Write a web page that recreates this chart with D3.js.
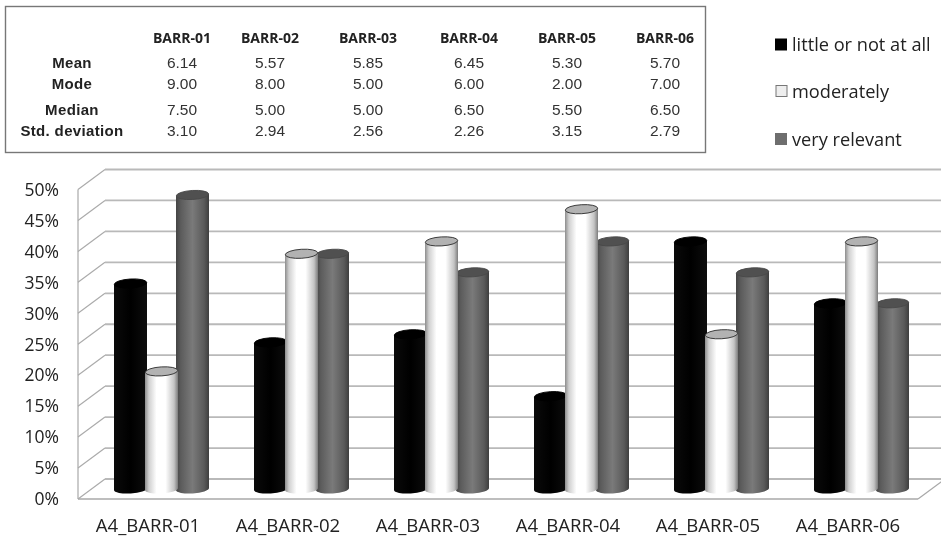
<!DOCTYPE html>
<html><head><meta charset="utf-8">
<script src="https://cdn.jsdelivr.net/npm/d3@7"></script>
<style>
html,body{margin:0;padding:0;background:#fff;overflow:hidden}
svg{display:block;filter:blur(0.4px)}
</style></head><body>
<svg id="c" width="941" height="536"></svg>
<script>
// ---- data ----
const categories = ["A4_BARR-01","A4_BARR-02","A4_BARR-03","A4_BARR-04","A4_BARR-05","A4_BARR-06"];
const seriesNames = ["little or not at all","moderately","very relevant"];
const littleValues = [33.2,23.7,25,15,40,30];
const moderateValues = [19,38,40,45.2,25,40];
const relevantValues = [47.5,38,35,40,35,30];
const yTicks = [0,5,10,15,20,25,30,35,40,45,50];
const tableHeads = ["BARR-01","BARR-02","BARR-03","BARR-04","BARR-05","BARR-06"];
const tableRowNames = ["Mean","Mode","Median","Std. deviation"];
const meanRow = ["6.14","5.57","5.85","6.45","5.30","5.70"];
const modeRow = ["9.00","8.00","5.00","6.00","2.00","7.00"];
const medianRow = ["7.50","5.00","5.00","6.50","5.50","6.50"];
const stdRow = ["3.10","2.94","2.56","2.26","3.15","2.79"];
// ---- layout ----
const svg = d3.select("#c");
const x = d3.scaleBand().domain(categories).range([78,918]).padding(0);
const y = d3.scaleLinear().domain([0,50]).range([499,189.5]);
const depthX = 27, depthY = -20, barShiftX = 14, barShiftY = -10;
const barW = 33, barStep = 31, ry = 4.5, tilt = -3.5;
const sans = "'Open Sans',sans-serif", arial = "'Liberation Sans',Arial,sans-serif";

// gradients
const defs = svg.append("defs");
function grad(id, stops){
  const g = defs.append("linearGradient").attr("id",id);
  stops.forEach(s=>g.append("stop").attr("offset",s[0]).attr("stop-color",s[1]));
}
grad("gBlack",[[0,"#0a0a0a"],[.5,"#000"],[1,"#0c0c0c"]]);
grad("gWhite",[[0,"#8d8d8d"],[.12,"#d0d0d0"],[.35,"#fff"],[.62,"#fff"],[.88,"#c4c4c4"],[1,"#7c7c7c"]]);
grad("gGray",[[0,"#444"],[.15,"#5c5c5c"],[.5,"#7a7a7a"],[.85,"#5a5a5a"],[1,"#3e3e3e"]]);

// walls
const wall = svg.append("g").attr("fill","none");
yTicks.forEach(t=>{
  wall.append("line").attr("x1",78).attr("y1",y(t)).attr("x2",78+depthX).attr("y2",y(t)+depthY)
    .attr("stroke","#ababab").attr("stroke-width",1.2);
  wall.append("line").attr("x1",78+depthX).attr("y1",y(t)+depthY).attr("x2",941).attr("y2",y(t)+depthY)
    .attr("stroke","#b9b9b9").attr("stroke-width",1.8);
});
wall.append("line").attr("x1",78).attr("y1",y(0)).attr("x2",78).attr("y2",y(50)).attr("stroke","#a8a8a8").attr("stroke-width",1.2);
wall.append("line").attr("x1",78).attr("y1",y(0)).attr("x2",918).attr("y2",y(0)).attr("stroke","#a8a8a8").attr("stroke-width",1.5);
wall.append("line").attr("x1",918).attr("y1",y(0)).attr("x2",918+depthX).attr("y2",y(0)+depthY).attr("stroke","#a8a8a8").attr("stroke-width",1.2);

// cylinders
const looks = [
  {vals:littleValues,i:0,fill:"url(#gBlack)",cap:"#000",capStroke:"#000"},
  {vals:relevantValues,i:2,fill:"url(#gGray)",cap:"#505050",capStroke:"#484848"},
  {vals:moderateValues,i:1,fill:"url(#gWhite)",cap:"#b2b2b2",capStroke:"#2e2e2e"}
];
const dy = Math.sin(-tilt*Math.PI/180)*barW/2;
looks.forEach(s=>{
  const g = svg.append("g");
  const left = c => x(c)+barShiftX+22+s.i*barStep;
  const top = v => y(v)+barShiftY;
  g.selectAll("path").data(categories).join("path")
    .attr("fill",s.fill)
    .attr("d",(c,k)=>{
      const l=left(c), r=l+barW, t=top(s.vals[k]), b=y(0)+barShiftY;
      return `M${l},${t+dy} L${l},${b+dy} A${barW/2},${ry} ${tilt} 0 0 ${r},${b-dy} L${r},${t-dy} Z`;
    });
  g.selectAll("ellipse").data(categories).join("ellipse")
    .attr("transform",(c,k)=>`translate(${left(c)+barW/2},${top(s.vals[k])}) rotate(${tilt})`)
    .attr("rx",barW/2-.3).attr("ry",ry)
    .attr("fill",s.cap).attr("stroke",s.capStroke).attr("stroke-width",.9);
});

// axes
const yAxis = svg.append("g").attr("transform","translate(59,0)")
  .call(d3.axisLeft(y).tickValues(yTicks).tickFormat(d=>d+"%").tickSize(0).tickPadding(0));
yAxis.select(".domain").remove();
yAxis.selectAll("text").attr("font-family",sans).attr("font-size",17.5).attr("fill","#222").attr("dy","0.33em");
const xAxis = svg.append("g").attr("transform","translate(0,499)")
  .call(d3.axisBottom(x).tickSize(0).tickPadding(0));
xAxis.select(".domain").remove();
xAxis.selectAll("text").attr("font-family",sans).attr("font-size",18.6).attr("fill","#222").attr("y",32.5).attr("dy",0);

// table
svg.append("rect").attr("x",5.5).attr("y",6.5).attr("width",700).attr("height",146)
  .attr("fill","none").attr("stroke","#777").attr("stroke-width",1.4);
const colX = d3.scaleOrdinal().domain(tableHeads).range([182,270,368,469,567,665]);
const rowY = d3.scaleOrdinal().domain(tableRowNames).range([67.5,88.5,114.5,135.5]);
const tb = svg.append("g").attr("text-anchor","middle");
tb.selectAll("text.h").data(tableHeads).join("text").attr("class","h")
  .attr("x",d=>colX(d)).attr("y",43).text(d=>d)
  .attr("font-family",sans).attr("font-weight",700).attr("font-size",14).attr("fill","#222");
tb.selectAll("text.r").data(tableRowNames).join("text").attr("class","r")
  .attr("x",72).attr("y",d=>rowY(d)).text(d=>d)
  .attr("font-family",arial).attr("font-weight",700).attr("font-size",15).attr("letter-spacing",.35).attr("fill","#222");
[meanRow,modeRow,medianRow,stdRow].forEach((row,ri)=>{
  tb.append("g").selectAll("text").data(row).join("text")
    .attr("x",(d,i)=>colX(tableHeads[i])).attr("y",rowY(tableRowNames[ri])).text(d=>d)
    .attr("font-family",arial).attr("font-size",15.5).attr("fill","#333");
});

// legend
const legY = d3.scaleOrdinal().domain(seriesNames).range([45,91.5,139.5]);
const legFill = d3.scaleOrdinal().domain(seriesNames).range(["#000","#eee","#6e6e6e"]);
const legStroke = d3.scaleOrdinal().domain(seriesNames).range(["#000","#777","#6e6e6e"]);
const lg = svg.append("g");
lg.selectAll("rect").data(seriesNames).join("rect")
  .attr("x",d=>d===seriesNames[1]?776:775.5).attr("y",d=>legY(d)-6)
  .attr("width",11).attr("height",11)
  .attr("fill",d=>legFill(d)).attr("stroke",d=>legStroke(d)).attr("stroke-width",1);
lg.selectAll("text").data(seriesNames).join("text")
  .attr("x",792).attr("y",d=>legY(d)+6).text(d=>d)
  .attr("font-family",sans).attr("font-size",18.2).attr("fill","#222");
</script>
</body></html>
